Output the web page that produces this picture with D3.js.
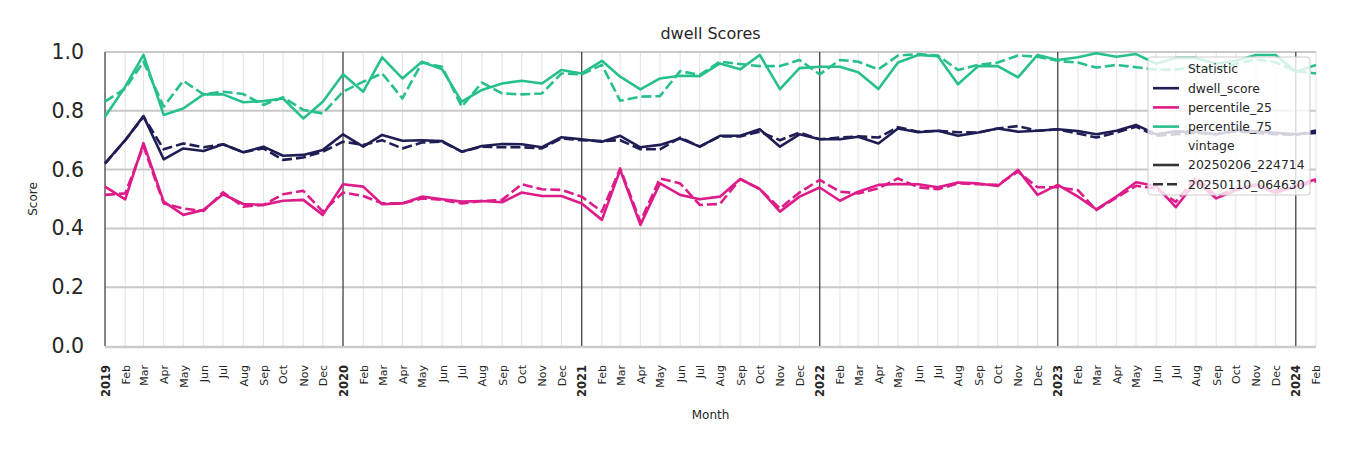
<!DOCTYPE html>
<html><head><meta charset="utf-8">
<script src="https://cdn.jsdelivr.net/npm/d3@7"></script>
<style>body{margin:0;background:#fff;} text{font-family:"DejaVu Sans",sans-serif;}</style>
</head><body><svg id="c" width="1350" height="450"></svg>
<script>
const months = d3.range(62).map(i => new Date(Date.UTC(2019, i, 1)));
const yTicks = [0.0, 0.2, 0.4, 0.6, 0.8, 1.0];
const monthNames = ["Jan","Feb","Mar","Apr","May","Jun","Jul","Aug","Sep","Oct","Nov","Dec"];
const statistics = ["dwell_score","percentile_25","percentile_75"];
const vintages = ["20250206_224714","20250110_064630"];

const dwellNew = [0.621,0.70,0.782,0.635,0.672,0.663,0.686,0.659,0.678,0.647,0.65,0.667,
 0.72,0.678,0.718,0.698,0.70,0.697,0.661,0.68,0.687,0.686,0.676,0.71,
 0.703,0.695,0.715,0.676,0.684,0.706,0.678,0.715,0.715,0.737,0.678,0.72,
 0.703,0.703,0.712,0.689,0.74,0.727,0.732,0.715,0.726,0.74,0.729,0.732,
 0.737,0.731,0.72,0.732,0.752,0.72,0.73,0.728,0.72,0.735,0.73,0.725,
 0.72,0.725];
const dwellOld = [0.62,0.70,0.78,0.669,0.689,0.676,0.686,0.659,0.672,0.633,0.641,0.661,
 0.695,0.684,0.70,0.672,0.692,0.695,0.661,0.678,0.676,0.676,0.672,0.706,
 0.70,0.697,0.70,0.669,0.669,0.709,0.678,0.713,0.713,0.729,0.70,0.726,
 0.703,0.709,0.713,0.709,0.744,0.729,0.732,0.727,0.726,0.74,0.748,0.732,
 0.737,0.723,0.709,0.726,0.746,0.715,0.72,0.725,0.72,0.73,0.725,0.72,
 0.718,0.733];
const p25New = [0.542,0.499,0.69,0.491,0.446,0.463,0.516,0.483,0.48,0.494,0.497,0.446,
 0.55,0.542,0.482,0.485,0.508,0.499,0.491,0.493,0.489,0.522,0.51,0.51,
 0.485,0.429,0.599,0.412,0.553,0.514,0.499,0.508,0.568,0.534,0.457,0.508,
 0.539,0.494,0.525,0.548,0.551,0.55,0.54,0.556,0.553,0.544,0.599,0.514,
 0.548,0.508,0.465,0.508,0.557,0.544,0.472,0.56,0.502,0.53,0.55,0.52,
 0.545,0.567];
const p25Old = [0.514,0.519,0.68,0.485,0.468,0.459,0.523,0.474,0.48,0.516,0.528,0.457,
 0.522,0.51,0.485,0.485,0.502,0.497,0.485,0.493,0.497,0.55,0.533,0.531,
 0.508,0.457,0.604,0.423,0.57,0.553,0.48,0.483,0.568,0.534,0.468,0.522,
 0.565,0.525,0.519,0.536,0.57,0.54,0.533,0.553,0.55,0.548,0.593,0.54,
 0.54,0.53,0.462,0.505,0.545,0.535,0.49,0.575,0.51,0.535,0.545,0.53,
 0.54,0.56];
const p75New = [0.78,0.882,0.99,0.786,0.808,0.856,0.856,0.829,0.833,0.842,0.774,0.831,
 0.924,0.865,0.982,0.91,0.967,0.941,0.831,0.871,0.893,0.902,0.893,0.939,
 0.927,0.97,0.916,0.873,0.91,0.919,0.918,0.961,0.941,0.99,0.874,0.945,
 0.95,0.95,0.931,0.874,0.964,0.99,0.986,0.89,0.952,0.952,0.914,0.99,
 0.973,0.982,0.996,0.984,0.993,0.96,0.98,0.98,0.96,0.97,0.99,0.99,
 0.933,0.956];
const p75Old = [0.831,0.876,0.967,0.814,0.902,0.856,0.865,0.857,0.82,0.846,0.803,0.791,
 0.865,0.899,0.927,0.842,0.964,0.95,0.814,0.896,0.859,0.856,0.859,0.927,
 0.924,0.956,0.834,0.848,0.85,0.935,0.922,0.967,0.959,0.952,0.952,0.973,
 0.924,0.973,0.967,0.941,0.988,0.993,0.988,0.939,0.956,0.964,0.988,0.984,
 0.97,0.964,0.947,0.956,0.948,0.94,0.94,0.95,0.94,0.96,0.975,0.965,
 0.935,0.927];

const colors = {dwell_score:"#1e1e55", percentile_25:"#dd1c8a", percentile_75:"#27c08b"};
const series = [
 {stat:"dwell_score", vintage:vintages[0], values:dwellNew},
 {stat:"dwell_score", vintage:vintages[1], values:dwellOld},
 {stat:"percentile_25", vintage:vintages[0], values:p25New},
 {stat:"percentile_25", vintage:vintages[1], values:p25Old},
 {stat:"percentile_75", vintage:vintages[0], values:p75New},
 {stat:"percentile_75", vintage:vintages[1], values:p75Old}
];

const svg = d3.select("#c");
const L = 105, R = 1316, T = 52, B = 346;
const x = d3.scaleUtc().domain([months[0], months[months.length-1]]).range([L, R]);
const y = d3.scaleLinear().domain([0, 1]).range([B, T]);

// month gridlines
svg.append("g").selectAll("line").data(months.filter(d => d.getUTCMonth() !== 0)).join("line")
  .attr("x1", d => x(d)).attr("x2", d => x(d)).attr("y1", T).attr("y2", B)
  .attr("stroke", "#e3e3e3").attr("stroke-width", 1);
// horizontal grid
svg.append("g").selectAll("line").data(yTicks.filter(v => v > 0)).join("line")
  .attr("x1", L).attr("x2", R).attr("y1", d => y(d)).attr("y2", d => y(d))
  .attr("stroke", "#c8c8c8").attr("stroke-width", 2);
// bottom spine
svg.append("line").attr("x1", L).attr("x2", R).attr("y1", B+1).attr("y2", B+1)
  .attr("stroke", "#cccccc").attr("stroke-width", 2.5);
// year lines
svg.append("g").selectAll("line").data(months.filter(d => d.getUTCMonth() === 0)).join("line")
  .attr("x1", d => x(d)).attr("x2", d => x(d)).attr("y1", T).attr("y2", B)
  .attr("stroke", "#444").attr("stroke-width", 1.3);

// lines
const line = d3.line().x((d, i) => x(months[i])).y(d => y(d));
const plot = svg.append("g");
series.forEach(s => {
  plot.append("path").datum(s.values).attr("d", line)
    .attr("fill", "none").attr("stroke", colors[s.stat]).attr("stroke-width", 2.6)
    .attr("stroke-linejoin", "round")
    .attr("stroke-dasharray", s.vintage === vintages[1] ? "10,4" : null);
});

// y axis labels
const yAxis = d3.axisLeft(y).tickValues(yTicks).tickFormat(d3.format(".1f")).tickSize(0).tickPadding(21);
const ya = svg.append("g").attr("transform", `translate(${L},0)`).call(yAxis);
ya.select(".domain").remove();
ya.selectAll("text").attr("font-size", 20.5).attr("fill", "#262626").attr("font-family", "DejaVu Sans");

// x axis labels
const xAxis = d3.axisBottom(x).tickValues(months).tickSize(0)
  .tickFormat(d => d.getUTCMonth() === 0 ? String(d.getUTCFullYear()) : monthNames[d.getUTCMonth()]);
const xa = svg.append("g").attr("transform", `translate(0,${B})`).call(xAxis);
xa.select(".domain").remove();
xa.selectAll("text")
  .attr("font-size", d => d.getUTCMonth() === 0 ? 11.5 : 11).attr("fill", "#262626").attr("font-family", "DejaVu Sans")
  .attr("font-weight", d => d.getUTCMonth() === 0 ? "bold" : "normal")
  .attr("text-anchor", "end").attr("transform", "rotate(-90)")
  .attr("x", -19).attr("y", 0).attr("dy", "0.35em");

// titles
svg.append("text").attr("x", (L+R)/2).attr("y", 39).attr("text-anchor", "middle")
  .attr("font-size", 16).attr("fill", "#262626").text("dwell Scores");
svg.append("text").attr("x", (L+R)/2).attr("y", 419).attr("text-anchor", "middle")
  .attr("font-size", 12).attr("fill", "#262626").text("Month");
svg.append("text").attr("transform", `translate(37,${(T+B)/2}) rotate(-90)`).attr("text-anchor", "middle")
  .attr("font-size", 12).attr("fill", "#262626").text("Score");

// legend
const lg = svg.append("g");
lg.append("rect").attr("x", 1148).attr("y", 57).attr("width", 162).attr("height", 138)
  .attr("rx", 3).attr("fill", "#fff").attr("fill-opacity", 0.8).attr("stroke", "#cccccc");
const entries = [
  {label:"Statistic", head:true},
  ...statistics.map(s => ({label:s, color:colors[s], dash:null})),
  {label:"vintage", head:true},
  {label:vintages[0], color:"#333", dash:null},
  {label:vintages[1], color:"#333", dash:"10,4"}
];
entries.forEach((e, i) => {
  const yy = 69 + i * 19.2;
  if (!e.head) {
    lg.append("line").attr("x1", 1153).attr("x2", 1179).attr("y1", yy).attr("y2", yy)
      .attr("stroke", e.color).attr("stroke-width", 2.6).attr("stroke-dasharray", e.dash);
  }
  lg.append("text").attr("x", 1188).attr("y", yy).attr("dy", "0.35em")
    .attr("font-size", 12.4).attr("fill", "#262626").text(e.label);
});
</script></body></html>
